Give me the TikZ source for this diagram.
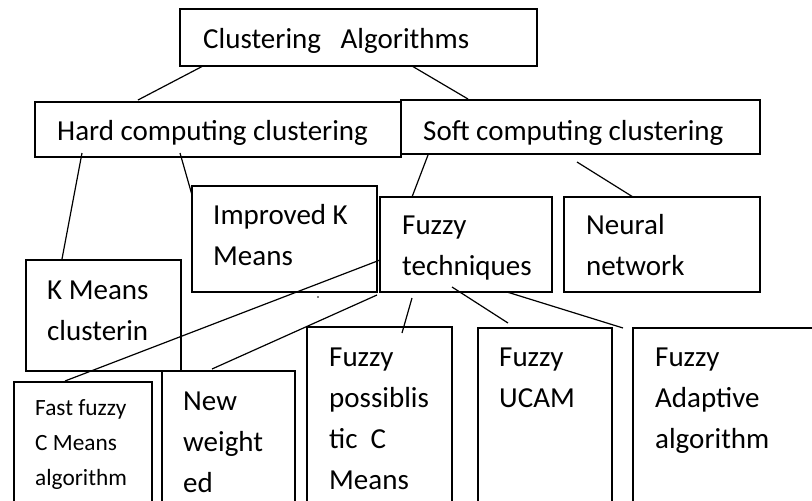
\documentclass[tikz,border=0pt]{standalone}
\usepackage{fontspec}
\setmainfont{Carlito}
\begin{document}
\begin{tikzpicture}[x=1pt,y=-1pt,
  box/.style={draw, line width=1.3pt, inner sep=0pt, outer sep=0pt, anchor=north west},
  lbl/.style={inner sep=0pt, anchor=base west, align=left, font=\fontsize{29}{41}\selectfont},
  smalllbl/.style={inner sep=0pt, anchor=base west, align=left, font=\fontsize{23.3}{35}\selectfont},
  conn/.style={line width=1.2pt}]
\useasboundingbox (0,0) rectangle (812,501);
\clip (0,0) rectangle (812,501);
% boxes
\node[box, line width=1.6pt, minimum width=357pt, minimum height=57pt] (ca) at (180,9) {};
\node[box, minimum width=366pt, minimum height=55pt] (hard) at (35,102) {};
\node[box, minimum width=359pt, minimum height=54pt] (soft) at (401,100) {};
\node[box, minimum width=185pt, minimum height=106pt] (imp) at (192,186) {};
\node[box, minimum width=172pt, minimum height=95pt] (fuz) at (380,197) {};
\node[box, minimum width=196pt, minimum height=95pt] (neu) at (564,197) {};
\node[box, minimum width=155pt, minimum height=111pt] (km) at (26,260) {};
\node[box, line width=2.2pt, minimum width=138pt, minimum height=140pt] (fast) at (14,382) {};
\node[box, minimum width=133pt, minimum height=150pt] (neww) at (162,371) {};
\node[box, minimum width=145pt, minimum height=190pt] (poss) at (307,327) {};
\node[box, minimum width=134pt, minimum height=190pt] (ucam) at (478,328) {};
\node[box, minimum width=200pt, minimum height=190pt] (adap) at (633,328) {};
% texts (base = baseline of last line)
\node[lbl] (tca) at (203,48) {Clustering~~~Algorithms};
\node[lbl] (thard) at (57,140) {Hard computing clustering};
\node[lbl] (tsoft) at (423,140) {Soft computing clustering};
\node[lbl] (timp) at (213,265) {Improved K\\Means};
\node[lbl] (tfuz) at (402,275) {Fuzzy\\techniques};
\node[lbl] (tneu) at (586,275) {Neural\\network};
\node[lbl] (tkm) at (47,340) {K Means\\clusterin};
\node[smalllbl] (tfast) at (35,485) {Fast fuzzy\\C Means\\algorithm};
\node[lbl] (tneww) at (183,492) {New\\weight\\ed};
\node[lbl] (tposs) at (329,489) {Fuzzy\\possiblis\\tic~~C\\Means};
\node[lbl] (tucam) at (499,407) {Fuzzy\\UCAM};
\node[lbl] (tadap) at (655,448) {Fuzzy\\Adaptive\\algorithm};
% stray dot
\fill (318,297) circle (0.9pt);
% connectors
\draw[conn] ([shift={(23,0)}]ca.south west) -- ([shift={(103,-2)}]hard.north west);
\draw[conn] ([shift={(232,0)}]ca.south west) -- ([shift={(67,-1)}]soft.north west);
\draw[conn] ([shift={(47,-4)}]hard.south west) -- ([shift={(36,-1)}]km.north west);
\draw[conn] ([shift={(145,-4)}]hard.south west) -- ([shift={(0,9)}]imp.north west);
\draw[conn] ([shift={(27,1)}]soft.south west) -- ([shift={(32,0)}]fuz.north west);
\draw[conn] ([shift={(176,8)}]soft.south west) -- ([shift={(69,0)}]neu.north west);
\draw[conn] ([shift={(0,63)}]fuz.north west) -- ([shift={(51,-1)}]fast.north west);
\draw[conn] ([shift={(-3,3)}]fuz.south west) -- ([shift={(50,-2)}]neww.north west);
\draw[conn] ([shift={(32,6)}]fuz.south west) -- ([shift={(95,6)}]poss.north west);
\draw[conn] ([shift={(72,-5)}]fuz.south west) -- ([shift={(30,-5)}]ucam.north west);
\draw[conn] ([shift={(127,0)}]fuz.south west) -- ([shift={(-10,0)}]adap.north west);
\end{tikzpicture}
\end{document}
